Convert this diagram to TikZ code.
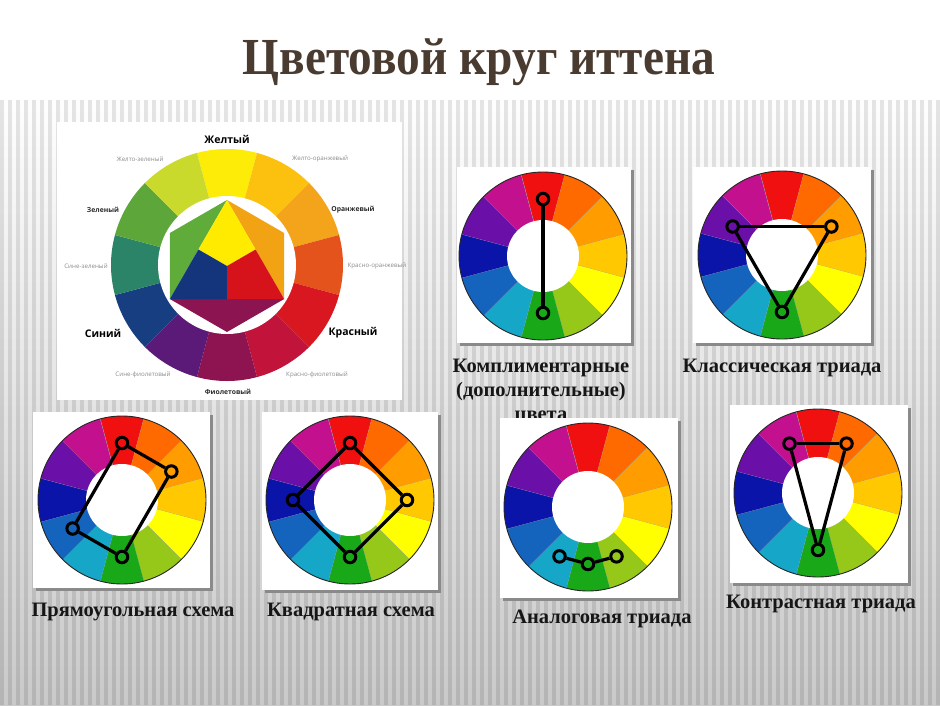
\documentclass[tikz,border=0pt]{standalone}
\usepackage{fontspec}
\setmainfont{Liberation Serif}
\newfontfamily\wheelfont{Open Sans}
\usepackage{graphicx}
\definecolor{titlebrown}{HTML}{4A3B31}
\definecolor{capblack}{HTML}{161616}
\definecolor{bgbottom}{HTML}{C9C9C9}
\definecolor{shadowgray}{HTML}{8A8A8A}
% big wheel
\definecolor{bY}{HTML}{FDEC08}
\definecolor{bYO}{HTML}{FBC10E}
\definecolor{bO}{HTML}{F3A41A}
\definecolor{bRO}{HTML}{E4531B}
\definecolor{bR}{HTML}{D91720}
\definecolor{bRV}{HTML}{C2143A}
\definecolor{bV}{HTML}{8E1451}
\definecolor{bBV}{HTML}{5B1A77}
\definecolor{bB}{HTML}{163E80}
\definecolor{bBG}{HTML}{2B8467}
\definecolor{bG}{HTML}{5DA73A}
\definecolor{bYG}{HTML}{C9DA2D}
\definecolor{iY}{HTML}{FFEB00}
\definecolor{iR}{HTML}{D6131B}
\definecolor{iB}{HTML}{14357B}
\definecolor{iG}{HTML}{60AC3B}
\definecolor{iO}{HTML}{F1A314}
\definecolor{iV}{HTML}{8C1451}
\definecolor{lblgray}{HTML}{8C8C8C}
\definecolor{lbldark}{HTML}{2A2A2A}
% small wheels
\definecolor{sR}{HTML}{F01010}
\definecolor{sOR}{HTML}{FF6A00}
\definecolor{sO}{HTML}{FF9C00}
\definecolor{sYO}{HTML}{FFC800}
\definecolor{sY}{HTML}{FFFF00}
\definecolor{sYG}{HTML}{96C81A}
\definecolor{sG}{HTML}{18A818}
\definecolor{sC}{HTML}{16A6C8}
\definecolor{sB}{HTML}{1464BE}
\definecolor{sDB}{HTML}{0A14A8}
\definecolor{sV}{HTML}{6A10A8}
\definecolor{sM}{HTML}{C2108E}

\newcommand\minpanel[4]{%
  \fill[shadowgray] (#1+3,-#2-3) rectangle (#3+3,-#4-3);
  \fill[white] (#1,-#2) rectangle (#3,-#4);
}
\newcommand\minwheel[2]{%
  \foreach \c [count=\i from 0] in {sR,sOR,sO,sYO,sY,sYG,sG,sC,sB,sDB,sV,sM}{%
    \pgfmathsetmacro\aa{75-30*\i}%
    \fill[\c] (#1,-#2) -- ++(\aa:84) arc[start angle=\aa, delta angle=30, radius=84] -- cycle;
    \draw[black!40, line width=0.4pt] (#1,-#2) -- ++(\aa:84);
  }
  \draw[black!85, line width=0.9pt] (#1,-#2) circle[radius=84];
  \fill[white] (#1,-#2) circle[radius=36];
}

\begin{document}
\begin{tikzpicture}[x=1pt,y=1pt,
  mk/.style={circle, draw=black, line width=3pt, minimum size=11.5pt, inner sep=0pt},
  conn/.style={black, line width=3.2pt},
  caption/.style={font=\fontsize{20.5}{24}\selectfont\bfseries, text=capblack, anchor=base, inner sep=0pt},
  bigname/.style={font=\wheelfont\fontsize{10.5}{12}\selectfont\bfseries, text=black, inner sep=0pt},
  midname/.style={font=\wheelfont\fontsize{6.8}{8}\selectfont\bfseries, text=lbldark, inner sep=0pt},
  smallname/.style={font=\wheelfont\fontsize{6.2}{7}\selectfont, text=lblgray, inner sep=0pt}
]
\useasboundingbox (0,0) rectangle (940,-705);
% background
\fill[white] (0,0) rectangle (940,-705);
\shade[top color=white, bottom color=bgbottom] (0,-95) rectangle (940,-705);
\foreach \x in {2,10,...,938}{
  \draw[black, opacity=0.10, line width=3.6pt] (\x,-100) -- (\x,-705);
}

% title
\node[font=\fontsize{52}{62}\selectfont\bfseries, text=titlebrown, anchor=base, inner sep=0pt] (title) at (479,-74) {\scalebox{0.91}[1]{Цветовой круг иттена}};

% ===== big wheel panel =====
\fill[white] (57,-122) rectangle (402,-400);
\begin{scope}[shift={(227,-265)}]
  \foreach \c [count=\i from 0] in {bY,bYO,bO,bRO,bR,bRV,bV,bBV,bB,bBG,bG,bYG}{%
    \pgfmathsetmacro\aa{75-30*\i}%
    \fill[\c] (0,0) -- (\aa:116) arc[start angle=\aa, delta angle=30, radius=116] -- cycle;
  }
  \fill[white] (0,0) circle[radius=69];
\end{scope}
\begin{scope}[shift={(227,-266)}]
  \coordinate (H90) at (90:66);
  \coordinate (H150) at (150:66);
  \coordinate (H210) at (210:66);
  \coordinate (H270) at (270:66);
  \coordinate (H330) at (330:66);
  \coordinate (H30) at (30:66);
  \coordinate (Cc) at (0,0);
  \coordinate (ML) at (150:33);
  \coordinate (MR) at (30:33);
  \coordinate (MB) at (270:33);
  \fill[iG] (H90) -- (H150) -- (H210) -- cycle;
  \fill[iO] (H330) -- (H30) -- (H90) -- cycle;
  \fill[iV] (H210) -- (H270) -- (H330) -- cycle;
  \fill[iY] (H90) -- (ML) -- (Cc) -- (MR) -- cycle;
  \fill[iB] (H210) -- (MB) -- (Cc) -- (ML) -- cycle;
  \fill[iR] (H330) -- (MR) -- (Cc) -- (MB) -- cycle;
\end{scope}
\node[bigname] (nY) at (227,-139) {Желтый};
\node[smallname] (nYG) at (140,-159) {Желто-зеленый};
\node[smallname] (nYO) at (320,-159) {Желто-оранжевый};
\node[midname] (nO) at (353,-210) {Оранжевый};
\node[smallname] (nRO) at (377,-266) {Красно-оранжевый};
\node[bigname] (nR) at (353,-333) {Красный};
\node[smallname] (nRV) at (317,-375) {Красно-фиолетовый};
\node[midname] (nV) at (228,-392) {Фиолетовый};
\node[smallname] (nBV) at (143,-375) {Сине-фиолетовый};
\node[bigname] (nB) at (103,-333) {Синий};
\node[smallname] (nBG) at (86,-266) {Сине-зеленый};
\node[midname] (nG) at (103,-210) {Зеленый};

% ===== captions (drawn before panels, third line is partly hidden) =====
\node[caption] (cap1a) at (541,-372) {Комплиментарные};
\node[caption] (cap1b) at (541,-396) {(дополнительные)};
\node[caption] (cap1c) at (541,-420) {цвета};
\node[caption] (cap2) at (782,-372) {Классическая триада};
\node[caption] (cap3) at (133,-616) {Прямоугольная схема};
\node[caption] (cap4) at (351,-616) {Квадратная схема};
\node[caption] (cap5) at (602,-623) {Аналоговая триада};
\node[caption] (cap6) at (821,-608) {Контрастная триада};

% ===== panel 1: complementary =====
\minpanel{457}{167}{631}{343}
\minwheel{543}{256}
\node[mk] (p1a) at ([shift={(90:57)}]543,-256) {};
\node[mk] (p1b) at ([shift={(270:57)}]543,-256) {};
\draw[conn] (p1a) -- (p1b);

% ===== panel 2: classic triad =====
\minpanel{693}{167}{871}{343}
\minwheel{782}{255}
\node[mk] (p2a) at ([shift={(150:57)}]782,-255) {};
\node[mk] (p2b) at ([shift={(30:57)}]782,-255) {};
\node[mk] (p2c) at ([shift={(270:57)}]782,-255) {};
\draw[conn] (p2a) -- (p2b);
\draw[conn] (p2b) -- (p2c);
\draw[conn] (p2c) -- (p2a);

% ===== panel 3: rectangle =====
\minpanel{33}{412}{210}{588}
\minwheel{122}{500}
\node[mk] (p3a) at ([shift={(90:57)}]122,-500) {};
\node[mk] (p3b) at ([shift={(30:57)}]122,-500) {};
\node[mk] (p3c) at ([shift={(270:57)}]122,-500) {};
\node[mk] (p3d) at ([shift={(210:57)}]122,-500) {};
\draw[conn] (p3a) -- (p3b);
\draw[conn] (p3b) -- (p3c);
\draw[conn] (p3c) -- (p3d);
\draw[conn] (p3d) -- (p3a);

% ===== panel 4: square =====
\minpanel{262}{412}{438}{590}
\minwheel{350}{500}
\node[mk] (p4a) at ([shift={(90:57)}]350,-500) {};
\node[mk] (p4b) at ([shift={(0:57)}]350,-500) {};
\node[mk] (p4c) at ([shift={(270:57)}]350,-500) {};
\node[mk] (p4d) at ([shift={(180:57)}]350,-500) {};
\draw[conn] (p4a) -- (p4b);
\draw[conn] (p4b) -- (p4c);
\draw[conn] (p4c) -- (p4d);
\draw[conn] (p4d) -- (p4a);

% ===== panel 5: analogous =====
\minpanel{500}{418}{678}{598}
\minwheel{588}{507}
\node[mk] (p5a) at ([shift={(240:57)}]588,-507) {};
\node[mk] (p5b) at ([shift={(270:57)}]588,-507) {};
\node[mk] (p5c) at ([shift={(300:57)}]588,-507) {};
\draw[conn] (p5a) -- (p5b);
\draw[conn] (p5b) -- (p5c);

% ===== panel 6: contrast triad =====
\minpanel{730}{405}{908}{583}
\minwheel{818}{493}
\node[mk] (p6a) at ([shift={(120:57)}]818,-493) {};
\node[mk] (p6b) at ([shift={(60:57)}]818,-493) {};
\node[mk] (p6c) at ([shift={(270:57)}]818,-493) {};
\draw[conn] (p6a) -- (p6b);
\draw[conn] (p6b) -- (p6c);
\draw[conn] (p6c) -- (p6a);
\end{tikzpicture}
\end{document}
